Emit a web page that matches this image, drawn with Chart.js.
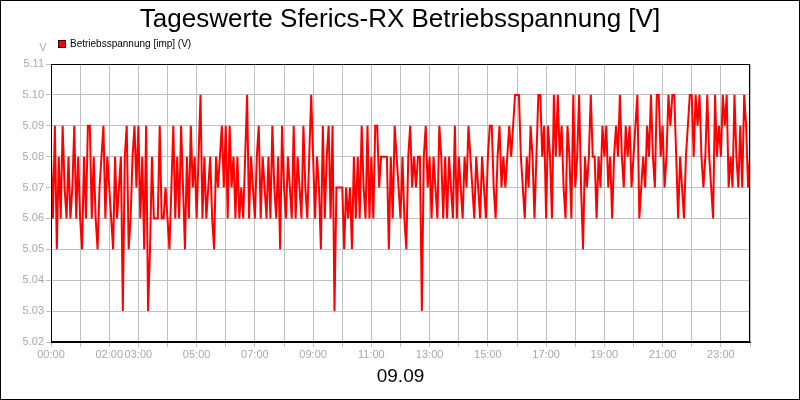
<!DOCTYPE html>
<html>
<head>
<meta charset="utf-8">
<title>Tageswerte Sferics-RX Betriebsspannung</title>
<script src="https://cdn.jsdelivr.net/npm/chart.js@4.4.0/dist/chart.umd.min.js"></script>
<style>
  html, body { margin: 0; padding: 0; background: #fff; }
  #wrap { width: 800px; height: 400px; }
</style>
</head>
<body>
<div id="wrap"><canvas id="chart" width="800" height="400"></canvas></div>
<script>
// readings every 4 minutes, 00:00 .. 24:00 (15 per hour)
const stepMinutes = 4;

const volts00to06 = [
  5.08, 5.06, 5.09, 5.05, 5.08, 5.06, 5.09, 5.07, 5.06, 5.08, 5.06, 5.07, 5.09, 5.06, 5.08,
  5.06, 5.05, 5.08, 5.06, 5.09, 5.09, 5.06, 5.08, 5.06, 5.05, 5.07, 5.08, 5.09, 5.06, 5.08,
  5.07, 5.06, 5.05, 5.08, 5.06, 5.07, 5.08, 5.03, 5.08, 5.09, 5.05, 5.06, 5.08, 5.09, 5.07,
  5.09, 5.06, 5.08, 5.05, 5.09, 5.03, 5.05, 5.08, 5.06, 5.06, 5.06, 5.09, 5.06, 5.06, 5.07,
  5.06, 5.05, 5.07, 5.09, 5.06, 5.08, 5.06, 5.09, 5.07, 5.05, 5.08, 5.06, 5.09, 5.07, 5.08,
  5.06, 5.08, 5.10, 5.06, 5.08, 5.06, 5.07, 5.08, 5.06, 5.05, 5.08, 5.07, 5.08, 5.09, 5.07
];
const volts06to12 = [
  5.09, 5.06, 5.09, 5.07, 5.08, 5.06, 5.08, 5.06, 5.07, 5.06, 5.08, 5.10, 5.06, 5.08, 5.07,
  5.06, 5.08, 5.09, 5.06, 5.08, 5.07, 5.06, 5.08, 5.06, 5.09, 5.07, 5.06, 5.08, 5.05, 5.09,
  5.07, 5.06, 5.08, 5.07, 5.06, 5.09, 5.06, 5.08, 5.07, 5.06, 5.09, 5.07, 5.06, 5.08, 5.10,
  5.08, 5.06, 5.08, 5.07, 5.05, 5.09, 5.06, 5.08, 5.09, 5.06, 5.09, 5.03, 5.07, 5.07, 5.07,
  5.07, 5.05, 5.07, 5.06, 5.07, 5.05, 5.08, 5.06, 5.08, 5.06, 5.09, 5.07, 5.06, 5.09, 5.06,
  5.08, 5.06, 5.09, 5.09, 5.07, 5.08, 5.08, 5.08, 5.08, 5.05, 5.08, 5.06, 5.09, 5.08, 5.07
];
const volts12to18 = [
  5.06, 5.08, 5.06, 5.05, 5.08, 5.09, 5.07, 5.08, 5.07, 5.08, 5.08, 5.03, 5.08, 5.09, 5.07,
  5.08, 5.06, 5.08, 5.07, 5.06, 5.09, 5.08, 5.06, 5.08, 5.06, 5.08, 5.07, 5.06, 5.09, 5.06,
  5.08, 5.07, 5.06, 5.08, 5.07, 5.09, 5.08, 5.07, 5.06, 5.08, 5.07, 5.06, 5.08, 5.07, 5.06,
  5.08, 5.09, 5.09, 5.07, 5.06, 5.08, 5.09, 5.07, 5.08, 5.07, 5.08, 5.09, 5.08, 5.09, 5.10,
  5.10, 5.10, 5.08, 5.07, 5.06, 5.08, 5.07, 5.09, 5.08, 5.06, 5.08, 5.10, 5.10, 5.08, 5.09,
  5.06, 5.09, 5.08, 5.06, 5.10, 5.08, 5.10, 5.08, 5.09, 5.07, 5.06, 5.09, 5.08, 5.06, 5.10
];
const volts18to24 = [
  5.07, 5.08, 5.10, 5.07, 5.05, 5.08, 5.07, 5.08, 5.10, 5.08, 5.08, 5.06, 5.08, 5.07, 5.09,
  5.08, 5.09, 5.07, 5.08, 5.06, 5.08, 5.09, 5.08, 5.10, 5.08, 5.07, 5.09, 5.08, 5.09, 5.07,
  5.08, 5.09, 5.10, 5.06, 5.07, 5.08, 5.07, 5.09, 5.08, 5.10, 5.08, 5.07, 5.10, 5.10, 5.08,
  5.09, 5.07, 5.08, 5.10, 5.09, 5.10, 5.10, 5.08, 5.06, 5.08, 5.07, 5.06, 5.08, 5.09, 5.10,
  5.10, 5.08, 5.10, 5.09, 5.10, 5.08, 5.07, 5.08, 5.10, 5.08, 5.07, 5.06, 5.10, 5.08, 5.09,
  5.08, 5.10, 5.09, 5.10, 5.07, 5.08, 5.07, 5.10, 5.08, 5.07, 5.09, 5.07, 5.10, 5.09, 5.07,
  5.08
];

const yTicks = [5.02, 5.03, 5.04, 5.05, 5.06, 5.07, 5.08, 5.09, 5.10, 5.11];
const labeledHours = [0, 2, 3, 5, 7, 9, 11, 13, 15, 17, 19, 21, 23];

const volts = [].concat(volts00to06, volts06to12, volts12to18, volts18to24);
const points = volts.map((v, i) => ({ x: (i * stepMinutes) / 60, y: v }));

const FONT = "'Liberation Sans', Arial, sans-serif";
const GRID = "#c0c0c0";
const TICK_TEXT = "#a8a8a8";
const TITLE = "Tageswerte Sferics-RX Betriebsspannung [V]";

Chart.defaults.font.family = FONT;

const framePlugin = {
  id: "frame",
  beforeDraw(chart) {
    const ctx = chart.ctx;
    ctx.save();
    ctx.fillStyle = "#fff";
    ctx.fillRect(0, 0, chart.width, chart.height);
    ctx.restore();
  },
  afterDraw(chart) {
    const { ctx, chartArea: a } = chart;
    ctx.save();
    ctx.strokeStyle = "#000";
    ctx.lineWidth = 1;
    ctx.strokeRect(Math.round(a.left) + 0.5, Math.round(a.top) + 0.5,
      Math.round(a.right - a.left) - 1, Math.round(a.bottom - a.top) - 1);
    ctx.strokeRect(0.5, 0.5, chart.width - 1, chart.height - 1);

    // title, centred on the whole picture
    ctx.fillStyle = "#000";
    ctx.font = "26px " + FONT;
    ctx.textAlign = "center";
    ctx.textBaseline = "alphabetic";
    ctx.fillText(TITLE, chart.width / 2, 27);

    // unit above the y axis
    ctx.fillStyle = TICK_TEXT;
    ctx.font = "11px " + FONT;
    ctx.textBaseline = "middle";
    ctx.fillText("V", 43, 48);

    // legend
    const ds = chart.data.datasets[0];
    ctx.fillStyle = ds.borderColor;
    ctx.fillRect(58, 40, 8, 8);
    ctx.strokeStyle = "#400000";
    ctx.strokeRect(58.5, 40.5, 7, 7);
    ctx.fillStyle = "#000";
    ctx.font = "10px " + FONT;
    ctx.textAlign = "left";
    ctx.fillText(ds.label, 70, 44.5);
    ctx.restore();
  },
};

new Chart(document.getElementById("chart"), {
  type: "line",
  data: {
    datasets: [
      {
        label: "Betriebsspannung [imp] (V)",
        data: points,
        borderColor: "#ff0000",
        borderWidth: 2,
        pointRadius: 0,
        tension: 0,
        fill: false,
      },
    ],
  },
  options: {
    responsive: false,
    animation: false,
    devicePixelRatio: 1,
    layout: { padding: { left: 0, right: 50, top: 64, bottom: 0 } },
    plugins: {
      legend: { display: false },
      tooltip: { enabled: false },
      title: { display: false },
    },
    scales: {
      x: {
        type: "linear",
        min: 0,
        max: 24,
        afterFit: (scale) => { scale.height = 58; },
        border: { color: "#000", width: 1 },
        grid: { color: GRID, tickColor: GRID, tickLength: 5 },
        ticks: {
          stepSize: 1,
          autoSkip: false,
          maxRotation: 0,
          padding: 1,
          color: TICK_TEXT,
          font: { size: 11 },
          callback: (v) => labeledHours.includes(v) ? String(v).padStart(2, "0") + ":00" : "",
        },
        title: {
          display: true,
          text: "09.09",
          color: "#000",
          font: { size: 19 },
          padding: { top: 4, bottom: 12 },
        },
      },
      y: {
        min: yTicks[0],
        max: yTicks[yTicks.length - 1],
        afterFit: (scale) => { scale.width = 51; },
        afterBuildTicks: (scale) => { scale.ticks = yTicks.map((v) => ({ value: v })); },
        border: { color: "#000", width: 1 },
        grid: { color: GRID, tickColor: GRID, tickLength: 5 },
        ticks: {
          padding: 2,
          color: TICK_TEXT,
          font: { size: 11 },
          callback: (v) => v.toFixed(2),
        },
      },
    },
  },
  plugins: [framePlugin],
});
</script>
</body>
</html>
